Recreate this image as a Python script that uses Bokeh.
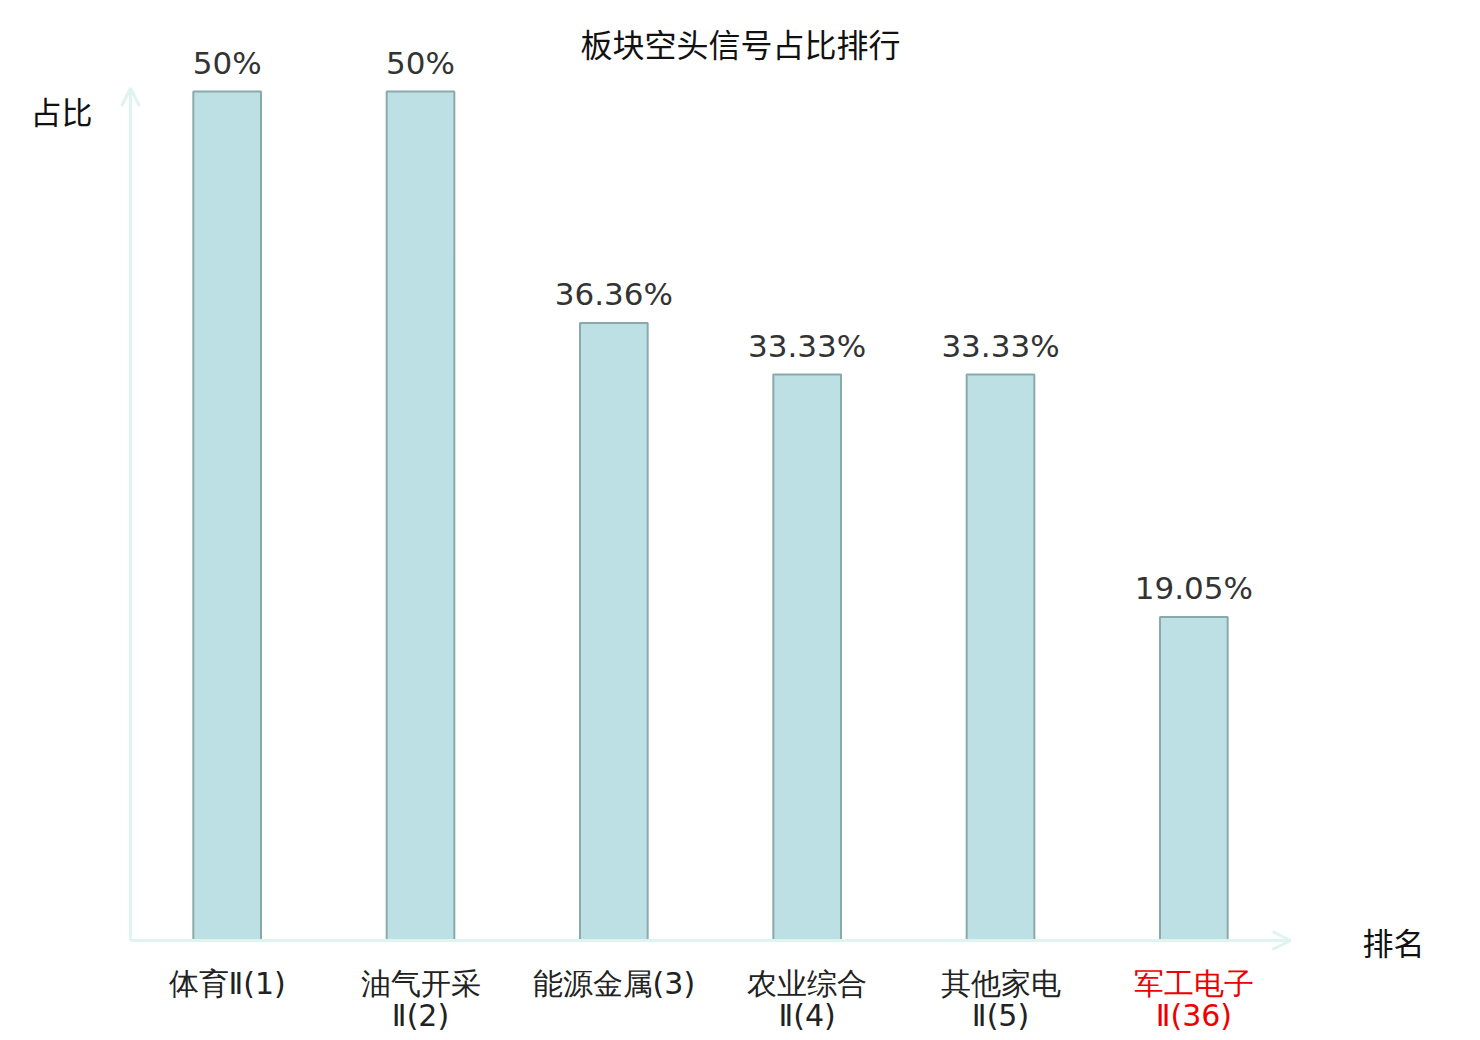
from bokeh.plotting import figure
from bokeh.models import ColumnDataSource, Range1d, Arrow, OpenHead
from bokeh.core.properties import value
from bokeh.embed import file_html
from bokeh.resources import INLINE

title = "板块空头信号占比排行"
categories = ["体育Ⅱ(1)", "油气开采\nⅡ(2)", "能源金属(3)", "农业综合\nⅡ(4)", "其他家电\nⅡ(5)", "军工电子\nⅡ(36)"]
values = [50, 50, 36.36, 33.33, 33.33, 19.05]
value_labels = ["50%", "50%", "36.36%", "33.33%", "33.33%", "19.05%"]
label_colors = ["#222222", "#222222", "#222222", "#222222", "#222222", "#ee0000"]
y_name = "占比"
x_name = "排名"

W, H = 1464, 1040
# pixel layout (figure coords)
px_left, px_right = 130, 1290
py_zero, py_50 = 940, 91
ppu_x = (px_right - px_left) / len(categories)
ppu_y = (py_zero - py_50) / 50.0
x0 = -px_left / ppu_x
x1 = x0 + W / ppu_x
y1 = py_zero / ppu_y
y0 = y1 - H / ppu_y

p = figure(width=W, height=H, output_backend="svg", toolbar_location=None,
           x_range=Range1d(x0, x1), y_range=Range1d(y0, y1),
           min_border=0, min_border_left=0, min_border_right=0,
           min_border_top=0, min_border_bottom=0)
p.axis.visible = False
p.grid.visible = False
p.outline_line_color = None
p.background_fill_color = "white"
p.border_fill_color = "white"

xs = [i + 0.5 for i in range(len(categories))]
line1 = [c.split("\n")[0] for c in categories]
line2 = [c.split("\n")[1] if "\n" in c else "" for c in categories]
src = ColumnDataSource(dict(x=xs, top=values, vl=value_labels, l1=line1, l2=line2, col=label_colors))

p.vbar(x="x", top="top", bottom=0, width=0.35, source=src,
       fill_color="#bce0e3", line_color="#8aa9ab", line_width=2)

# axes with arrows
axis_col = "#dff3ef"
p.add_layout(Arrow(end=OpenHead(size=18, line_color=axis_col, line_width=3),
                   x_start=0, y_start=0, x_end=len(categories), y_end=0,
                   line_color=axis_col, line_width=3))
p.add_layout(Arrow(end=OpenHead(size=18, line_color=axis_col, line_width=3),
                   x_start=0, y_start=0, x_end=0, y_end=50.2,
                   line_color=axis_col, line_width=3))

# value labels
p.text(x="x", y="top", text="vl", source=src, text_align="center", text_baseline="bottom",
       y_offset=-11, text_font=value("DejaVu Sans"), text_font_size="31px", text_color="#333333")

# category labels (two lines)
lab_font = value("DejaVu Sans")
p.text(x="x", y=0, text="l1", source=src, text_align="center", text_baseline="middle",
       y_offset=43, text_font=lab_font, text_font_size="30px", text_color="col")
p.text(x="x", y=0, text="l2", source=src, text_align="center", text_baseline="middle",
       y_offset=75, text_font=lab_font, text_font_size="30px", text_color="col")

# title and axis names
cjk = value("Noto Sans CJK SC")
p.text(x=[(x0 + x1) / 2], y=[y1], text=[title], text_align="center", text_baseline="middle",
       x_offset=8, y_offset=42, text_font=cjk, text_font_size="32px", text_color="#111111")
p.text(x=[0], y=[50], text=[y_name], text_align="right", text_baseline="middle",
       x_offset=-38, y_offset=19, text_font=cjk, text_font_size="31px", text_color="#111111")
p.text(x=[len(categories)], y=[0], text=[x_name], text_align="left", text_baseline="middle",
       x_offset=72, y_offset=1, text_font=cjk, text_font_size="31px", text_color="#111111")

open("out.html", "w").write(file_html(p, INLINE))
